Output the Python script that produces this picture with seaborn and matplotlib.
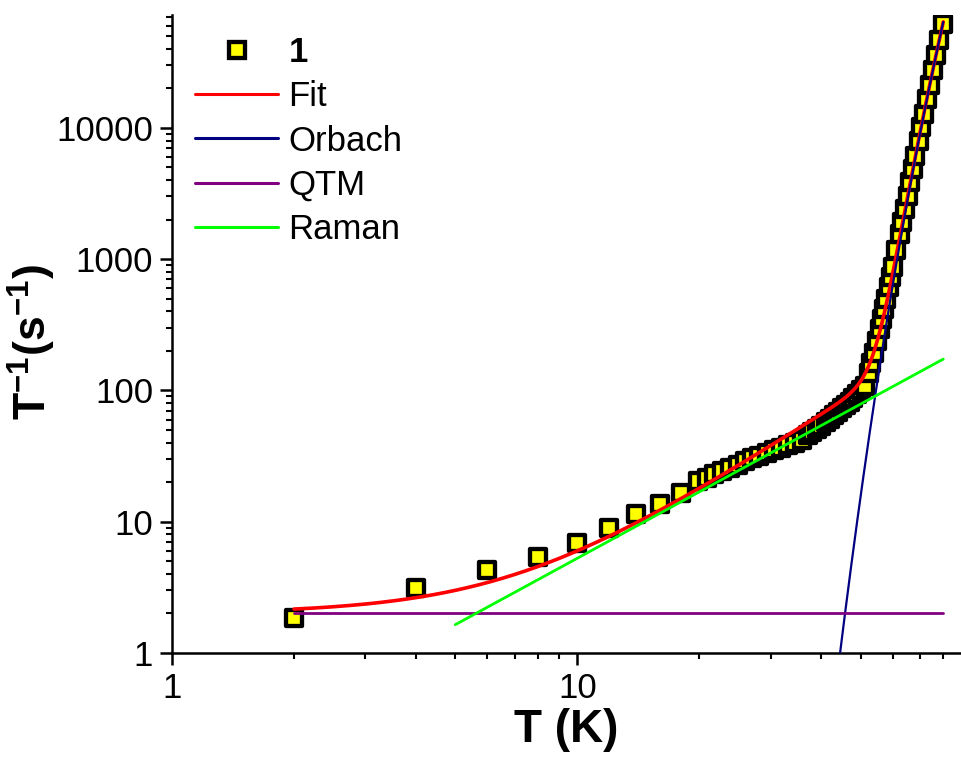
import numpy as np
import seaborn as sns
import matplotlib
matplotlib.use("Agg")
import matplotlib.pyplot as plt
from matplotlib.lines import Line2D
from matplotlib.ticker import LogLocator, NullFormatter

# Relaxation rate data for compound 1: temperature (K) and 1/tau (s^-1)
T_data = [2, 4, 6, 8, 10, 12, 14, 16, 18,
          19.9, 20.9, 21.8, 22.8, 23.8, 24.9, 25.9, 27.0, 28.1, 29.4,
          30.6, 31.8, 33.1, 34.4, 35.8,
          37, 38, 39, 40, 41, 42, 43, 44, 45, 46, 47, 48, 49, 50,
          51.3, 52.4, 53.2, 54.0, 54.9, 55.7, 56.5, 57.2, 57.9, 58.7,
          59.4, 60.1, 61.3, 62.5, 63.4, 64.3, 65.3, 66.2, 67.3, 68.2,
          69.5, 70.6, 71.7, 72.9, 74.1, 75.4, 76.8, 78.2, 79.9]
rate_data = [1.86, 3.15, 4.30, 5.43, 6.88, 9.0, 11.5, 13.7, 16.6,
             20.3, 21.6, 23.2, 24.2, 25.7, 27.2, 28.9, 30.3, 31.5, 33.4,
             35.0, 36.5, 38.2, 39.8, 41.7,
             46, 48.5, 51, 54, 57, 61, 65, 69, 73, 77, 81, 87, 94, 101,
             108, 136, 163, 194, 238, 292, 348, 415, 495, 611,
             729, 869, 1172, 1553, 1914, 2410, 3041, 3873, 4864, 6152,
             8000, 10190, 12790, 16630, 21040, 27350, 35650, 46340, 62230]

# Model parameters of the relaxation processes
qtm_rate = 2.0            # QTM rate, s^-1
ln_tau0_inv = 24.94       # ln(1/tau0) of the Orbach process
U_eff = 1110.0            # effective barrier, K
C_fit, n_fit = 0.040, 2.0         # Raman term inside the total fit
C_raman, n_raman = 0.110, 1.68    # separate Raman line

# Temperature ranges for each curve
T_fit_range = (2, 80)
T_orbach_range = (40, 80)
T_qtm_range = (2, 80)
T_raman_range = (5, 80)

# Axis ticks
x_ticks = [1, 10]
x_tick_labels = ["1", "10"]
y_ticks = [1, 10, 100, 1000, 10000]
y_tick_labels = ["1", "10", "100", "1000", "10000"]

series_names = ["1", "Fit", "Orbach", "QTM", "Raman"]
colors = {"Fit": "#FF0000", "Orbach": "#000080", "QTM": "#800080", "Raman": "#00FF00"}
widths = {"Fit": 2.6, "Orbach": 1.6, "QTM": 2.0, "Raman": 2.0}


def orbach(T):
    return np.exp(ln_tau0_inv - U_eff / T)


T_fit = np.geomspace(*T_fit_range, 400)
rate_fit = qtm_rate + C_fit * T_fit ** n_fit + orbach(T_fit)
T_orb = np.geomspace(*T_orbach_range, 300)
rate_orb = orbach(T_orb)
T_qtm = np.array(T_qtm_range, dtype=float)
rate_qtm = np.full_like(T_qtm, qtm_rate)
T_ram = np.geomspace(*T_raman_range, 100)
rate_ram = C_raman * T_ram ** n_raman

sns.set_style("ticks")
plt.rcParams["font.family"] = ["Liberation Sans", "DejaVu Sans"]
plt.rcParams["mathtext.fontset"] = "custom"
plt.rcParams["mathtext.rm"] = "Liberation Sans"
plt.rcParams["mathtext.bf"] = "Liberation Sans:bold"
plt.rcParams["text.color"] = "black"
plt.rcParams["axes.labelcolor"] = "black"

fig = plt.figure(figsize=(9.61, 7.64), dpi=100)
ax = fig.add_axes([0.179, 0.1453, 0.820, 0.8347])

sns.scatterplot(x=T_data, y=rate_data, marker="s", s=125, color="#FFFF00",
                edgecolor="black", linewidth=3.1, ax=ax, zorder=2, legend=False)

curves = {"Fit": (T_fit, rate_fit), "Orbach": (T_orb, rate_orb),
          "QTM": (T_qtm, rate_qtm), "Raman": (T_ram, rate_ram)}
for i, (name, (tx, ry)) in enumerate(curves.items()):
    sns.lineplot(x=tx, y=ry, color=colors[name], linewidth=widths[name],
                 sort=False, estimator=None, ax=ax, zorder=3 + i, legend=False)

ax.set_xscale("log")
ax.set_yscale("log")
ax.set_xlim(1, 88)
ax.set_ylim(1, 72000)

ax.set_xticks(x_ticks, labels=x_tick_labels)
ax.set_yticks(y_ticks, labels=y_tick_labels)
ax.xaxis.set_minor_locator(LogLocator(base=10, subs=np.arange(2, 10)))
ax.yaxis.set_minor_locator(LogLocator(base=10, subs=np.arange(2, 10)))
ax.xaxis.set_minor_formatter(NullFormatter())
ax.yaxis.set_minor_formatter(NullFormatter())

sns.despine(ax=ax)
for side in ("left", "bottom"):
    ax.spines[side].set_linewidth(1.8)
    ax.spines[side].set_color("black")
ax.tick_params(which="major", direction="out", length=8.6, width=1.8,
               labelsize=25, colors="black", labelcolor="black", pad=5)
ax.tick_params(which="minor", direction="out", length=4.3, width=1.5, colors="black")

ax.set_xlabel("T (K)", fontsize=33, fontweight="bold", labelpad=2, color="black")
ax.set_ylabel(r"$\mathbf{T^{-1}(s^{-1})}$", fontsize=32, color="black")
ax.yaxis.set_label_coords(-0.145, 0.487)

handles = [Line2D([], [], marker="s", ls="none", ms=11, mfc="#FFFF00",
                  mec="black", mew=3.1)]
for name in series_names[1:]:
    handles.append(Line2D([], [], color=colors[name], linewidth=2.2))
leg = ax.legend(handles, series_names, loc="upper left",
                bbox_to_anchor=(0.029, 0.967), frameon=False, fontsize=25,
                handlelength=2.4, handletextpad=0.3, labelspacing=0.32,
                borderpad=0, borderaxespad=0)
for txt in leg.get_texts():
    txt.set_color("black")
leg.get_texts()[0].set_fontweight("bold")

fig.savefig("out.png", dpi=100)
